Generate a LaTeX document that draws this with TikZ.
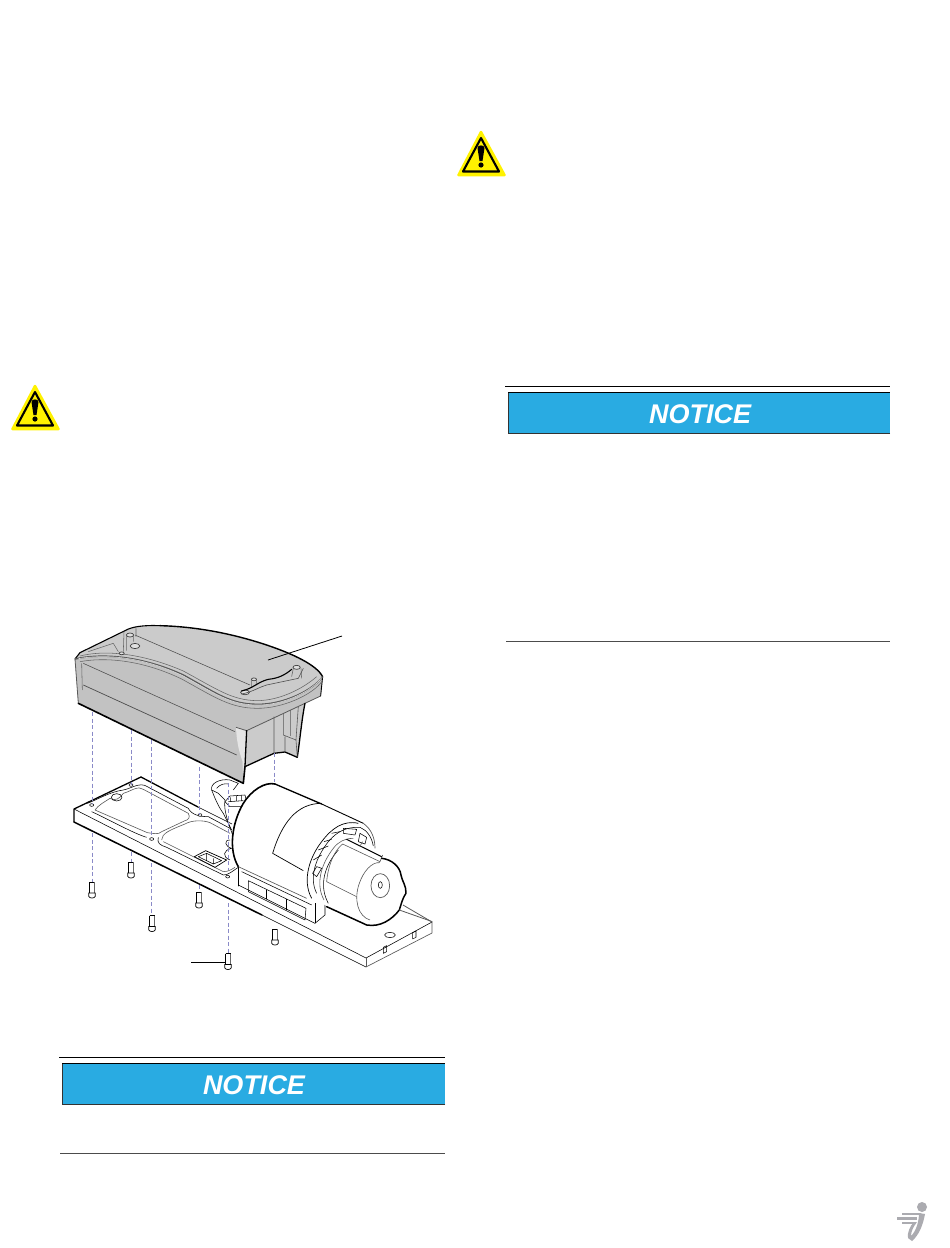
\documentclass[tikz,border=0pt]{standalone}
\usepackage{fontspec}
\setmainfont{Liberation Sans}
\newfontface\noticeface{Liberation Sans Bold Italic}
\definecolor{noticeblue}{HTML}{29ABE2}
\definecolor{dashblue}{HTML}{8A8AC8}
\definecolor{coverfill}{HTML}{CBCBCB}
\definecolor{coverdark}{HTML}{C2C2C2}
\definecolor{thin}{HTML}{9A9A9A}
\definecolor{logogray}{HTML}{ABABB0}
\definecolor{warnyellow}{HTML}{FFF200}
\tikzset{
  z1/.style={shift={(50,610)},x=0.3333pt,y=-0.3333pt},
  z2/.style={shift={(60,760)},x=0.3333pt,y=-0.3333pt},
  z3/.style={shift={(200,740)},x=0.3333pt,y=-0.3333pt},
  thickline/.style={black,line width=1.3pt,line join=round,line cap=round},
  midline/.style={black!65,line width=.8pt,line join=round},
  thinline/.style={thin,line width=.55pt,line join=round},
  dashline/.style={dashblue,line width=.9pt,dash pattern=on 4pt off 2.5pt},
  rule/.style={black,line width=.8pt},
  noticetext/.style={text=white,font=\fontsize{27}{27}\selectfont\noticeface,inner sep=0pt,anchor=center},
}
\newcommand{\warnsign}[2]{%
  \begin{scope}[shift={(#1,#2)}]
    \fill[warnyellow,line join=round,line width=2.5pt,draw=warnyellow] (481,132) -- (504.5,175) -- (458.5,175) -- cycle;
    \draw[black,line width=2.1pt,line join=round] (481,138) -- (499,171.5) -- (463,171.5) -- cycle;
    \fill[black] (477.5,148) .. controls (477.5,144.5) and (484.5,144.5) .. (484.5,148) -- (482.5,161) -- (479.5,161) -- cycle;
    \fill[black] (481,165) circle (2.6);
  \end{scope}}
\newcommand{\myscrew}[2]{%
  \begin{scope}[shift={(#1,#2)}]
    \fill[white] (-3,-8) rectangle (3,8);
    \draw[thin,line width=.7pt] (-2.5,-8) -- (-2.5,3) (-2.5,-8) -- (2.5,-8);
    \draw[black!60,line width=1pt] (2.5,-8) -- (2.5,3);
    \draw[thin,line width=.7pt] (-3.2,3) -- (3.2,3) -- (3.2,6.5) .. controls (2,8.5) and (-2,8.5) .. (-3.2,6.5) -- cycle;
  \end{scope}}
\begin{document}
\begin{tikzpicture}[x=1pt,y=-1pt]
\useasboundingbox (0,0) rectangle (950,1248);
\fill[white] (0,0) rectangle (950,1248);

% warning signs
\warnsign{0}{0}
\warnsign{-446}{254}

% notice block, right column
\draw[rule] (505,386) -- (890,386);
\node[fill=noticeblue,minimum width=382pt,minimum height=41pt,inner sep=0pt,anchor=north west] (barA) at (508,392.5) {};
\draw[black,line width=1.5pt] (508,392.5) -- (890,392.5);
\draw[black!80,line width=.6pt] (890,433.5) -- (508,433.5) -- (508,392.5);
\node[noticetext] (noticeA) at (700,414) {NOTICE};
\draw[black!70,line width=.7pt] (506,641) -- (890,641);

% notice block, left column
\draw[rule] (59,1057) -- (445,1057);
\node[fill=noticeblue,minimum width=383pt,minimum height=41pt,inner sep=0pt,anchor=north west] (barB) at (62,1063.5) {};
\draw[black,line width=1.5pt] (62,1063.5) -- (445,1063.5);
\draw[black!80,line width=.6pt] (445,1104.5) -- (62,1104.5) -- (62,1063.5);
\node[noticetext] (noticeB) at (254,1085) {NOTICE};
\draw[black!70,line width=.7pt] (60,1153) -- (445,1153);

% base plate
\fill[white] (74,809) -- (141,777) -- (432,922) -- (432,933) -- (366,967) -- (74,822) -- cycle;
\draw[thickline] (74,822) -- (74,809) -- (141,777);
\draw[thickline,line width=1.5pt] (74,822) -- (262,915);
\draw[thickline] (141,777) -- (198,807);
\draw[thinline] (198,807) -- (232,824);
\draw[thinline] (262,915) -- (366,967);
\draw[midline,line width=.65pt] (366,967) -- (432,933) -- (432,922);
\draw[thinline] (432,922) -- (366,958) -- (74,809);
\draw[midline,line width=.65pt] (366,958) -- (366,967);
\draw[midline] (403,905) -- (432,922);
\begin{scope}[z3]
  \draw[thinline] (570,585) ellipse (16 and 8);
  \draw[thinline] (550,622) -- (560,617) -- (560,635) -- (550,640) -- cycle;
  \draw[thinline] (638,578) -- (648,573) -- (648,592) -- (638,597) -- cycle;
\end{scope}

% gasket, cavities and holes
\begin{scope}[z2]
  \draw[thinline] (82,130) .. controls (110,120) and (150,95) .. (190,90) .. controls (215,85) and (240,65) .. (262,80) -- (385,145) .. controls (395,165) and (420,170) .. (445,170) -- (510,205);
  \draw[midline,line width=.6pt] (105,150) .. controls (115,135) and (135,125) .. (150,115) .. controls (165,125) and (180,115) .. (190,100) .. controls (210,95) and (235,75) .. (250,88) -- (385,160) .. controls (392,172) and (385,180) .. (375,182) -- (305,215) .. controls (295,225) and (280,220) .. (262,218) -- (105,150);
  \draw[thinline] (95,155) .. controls (150,180) and (220,220) .. (260,232);
  \draw[midline,line width=.6pt] (305,240) .. controls (305,220) and (330,210) .. (375,192) .. controls (395,180) and (430,180) .. (450,188) -- (510,220);
  \draw[thinline] (295,232) .. controls (290,250) and (300,255) .. (320,262) -- (490,345) .. controls (505,345) and (515,335) .. (535,322);
  \draw[midline,line width=.6pt] (310,245) -- (490,335) .. controls (505,335) and (515,328) .. (525,322);
  \draw[thinline] (170,112) ellipse (16 and 11);
  \draw[thin,line width=.7pt,line join=round] (403,290) -- (437,272) -- (500,300) -- (465,322) -- cycle;
  \draw[thinline] (415,290) -- (440,280) -- (485,302) -- (460,312) -- cycle (440,280) -- (440,300) (460,312) -- (460,295);
  \foreach \hx/\hy in {95/135,213/75,275/237,420/165,503/350}
    \draw[thinline,fill=white] (\hx,\hy) ellipse (6 and 4);
  % wiring and connectors
  \draw[thinline] (455,90) .. controls (450,70) and (480,55) .. (510,60) -- (535,70) -- (520,90) (455,90) -- (475,100) -- (495,120) .. controls (490,150) and (505,190) .. (520,230);
  \draw[thinline] (470,85) .. controls (480,72) and (495,70) .. (505,72) (455,90) .. controls (465,115) and (475,140) .. (490,160) -- (515,210);
  \draw[thinline,fill=white] (495,125) -- (510,108) -- (555,105) -- (560,125) -- (545,140) -- (510,140) -- cycle;
  \draw[thinline] (505,125) -- (550,122) (512,112) -- (512,125) (530,108) -- (530,123) (545,106) -- (545,122);
  \draw[thinline] (510,240) .. controls (490,240) and (495,260) .. (515,265) .. controls (490,270) and (485,290) .. (510,300);
\end{scope}

% motor
\begin{scope}[z3]
  % base block
  \fill[white] (115,370) -- (115,435) -- (345,550) -- (375,505) -- (375,450) -- cycle;
  \draw[thickline,line width=1.5pt] (115,378) -- (115,437);
  \draw[thinline] (115,435) -- (345,550) -- (375,525) -- (375,495);
  \draw[thinline] (345,550) -- (345,490);
  \draw[thinline] (145,422) -- (145,455) -- (315,540) -- (318,505) -- (145,422);
  \draw[thinline] (200,450) -- (200,478) (258,478) -- (258,510);
  \draw[thinline] (125,395) -- (335,495);
  % cylinder
  \fill[white] (115,380) .. controls (85,330) and (95,250) .. (130,190) .. controls (155,150) and (195,125) .. (225,132) -- (490,250) .. controls (520,270) and (530,310) .. (522,330) -- (618,440) .. controls (620,470) and (580,560) .. (500,555) -- (380,500) -- (330,440) -- cycle;
  \draw[thickline,line width=1.6pt] (115,380) .. controls (85,330) and (95,250) .. (130,190) .. controls (155,150) and (195,125) .. (225,132);
  \draw[thickline] (225,132) -- (365,192);
  \draw[thickline,line width=.9pt] (365,192) -- (490,250);
  \draw[midline,line width=.65pt] (115,380) -- (320,475);
  \draw[midline,line width=.7pt] (490,250) .. controls (515,268) and (525,295) .. (525,325);
  % step curve
  \draw[thinline,line width=.7pt] (365,190) .. controls (290,190) and (245,250) .. (218,340) -- (310,392);
  % disc / ring
  \draw[thinline,line width=.7pt] (335,475) .. controls (305,420) and (330,350) .. (365,305) .. controls (395,265) and (430,240) .. (475,250);
  \draw[thinline] (350,460) .. controls (325,410) and (350,350) .. (385,305) .. controls (410,275) and (440,260) .. (480,262) .. controls (500,270) and (515,290) .. (520,318);
  \draw[midline,line width=.6pt] (372,480) .. controls (345,430) and (365,370) .. (400,325) .. controls (415,305) and (435,295) .. (460,295);
  \draw[thinline] (385,490) .. controls (355,435) and (375,375) .. (415,330);
  \draw[thinline] (340,360) -- (365,345) (355,330) -- (385,318) (372,305) -- (395,298) (395,280) -- (420,275);
  \draw[thinline] (430,265) -- (470,268) -- (465,285) -- (430,280) -- cycle;
  \draw[thinline] (480,280) -- (500,292) -- (495,312) -- (475,305) -- cycle;
  \draw[thinline] (338,400) -- (350,380) -- (365,385) -- (350,410) -- cycle;
  % shaft
  \draw[thickline,line width=1pt] (440,298) -- (545,350);
  \draw[midline,line width=.6pt] (428,312) -- (540,365) (480,318) -- (488,305) (540,365) -- (548,345);
  \draw[midline,line width=.6pt] (428,312) .. controls (405,330) and (385,370) .. (380,425) -- (470,470);
  \draw[thickline,line width=1.5pt] (545,355) .. controls (575,358) and (600,380) .. (603,405) .. controls (605,420) and (620,440) .. (618,460) .. controls (605,480) and (605,490) .. (598,510) .. controls (575,540) and (540,562) .. (500,555) -- (380,500);
  \draw[midline,line width=.6pt] (510,540) .. controls (475,530) and (460,480) .. (478,430) .. controls (490,395) and (515,365) .. (540,368);
  \draw[midline,line width=.7pt] (541,437) ellipse (28 and 36);
  \draw[thinline] (541,435) ellipse (6 and 10);
  \draw[midline] (598,510) -- (697,545);
\end{scope}

% cover
\begin{scope}[z1]
  \path[fill=coverfill] (75,147) -- (90,128) -- (225,62) .. controls (245,50) and (280,45) .. (330,47) .. controls (450,50) and (560,75) .. (650,105) .. controls (730,132) and (800,165) .. (818,200) -- (812,258) -- (765,280) .. controls (755,330) and (750,390) .. (742,442) -- (705,426) -- (672,430) -- (585,470) -- (580,520) -- (85,280) -- cycle;
  % front face a little darker
  \path[fill=coverdark] (75,147) .. controls (150,130) and (270,135) .. (400,195) .. controls (500,250) and (540,282) .. (620,283) .. controls (700,285) and (790,240) .. (818,200) -- (812,258) -- (765,280) -- (590,360) -- (558,352) -- (575,430) -- (580,520) -- (85,280) -- cycle;
  % light end wall
  \path[fill=black!10] (558,352) -- (590,362) -- (585,470) -- (580,520) -- (578,455) .. controls (565,420) and (560,390) .. (558,352) -- cycle;
  % edges
  \draw[thickline,line width=1.1pt] (75,147) -- (90,128) -- (225,62) .. controls (245,50) and (280,45) .. (330,47);
  \draw[thickline,line width=1.4pt] (330,47) .. controls (450,50) and (560,75) .. (650,105) .. controls (730,132) and (800,165) .. (818,200);
  \draw[midline] (75,147) -- (85,280);
  \draw[thickline,line width=1.6pt] (85,280) -- (580,520) -- (585,470);
  \draw[thickline,line width=.9pt] (818,200) -- (812,258);
  \draw[midline] (812,258) -- (765,280) -- (590,362) -- (558,352);
  \draw[thickline] (590,362) -- (585,470);
  \draw[thickline] (585,470) -- (672,430) -- (705,426) -- (742,442);
  \draw[thickline] (765,280) .. controls (755,330) and (750,390) .. (742,442);
  % rim
  \draw[black!65,line width=1.5pt] (75,147) .. controls (150,130) and (270,135) .. (400,195) .. controls (500,250) and (540,282) .. (620,283) .. controls (700,285) and (790,240) .. (818,200);
  \draw[black!15,line width=.6pt] (85,146) .. controls (160,133) and (270,137) .. (398,197) .. controls (498,252) and (540,284) .. (620,285) .. controls (700,287) and (788,242) .. (815,203);
  \draw[black!60,line width=.55pt] (90,155) .. controls (160,142) and (270,147) .. (395,207) .. controls (495,262) and (540,294) .. (620,295) .. controls (700,296) and (790,252) .. (815,215);
  \draw[black!60,line width=.55pt] (90,138) .. controls (160,120) and (270,127) .. (400,183) .. controls (505,240) and (545,270) .. (620,272) .. controls (690,272) and (760,235) .. (800,200);
  % inner lines
  \draw[black!70,line width=.55pt] (255,75) -- (600,225);
  \draw[black!70,line width=.55pt] (100,160) -- (555,365);
  \draw[black!70,line width=.7pt] (100,225) -- (560,435);
  \draw[black!60,line width=.55pt] (95,160) -- (97,240);
  \draw[black!60,line width=.55pt] (222,65) -- (220,125) (258,55) -- (258,80);
  \draw[black!60,line width=.55pt] (115,125) -- (190,100) -- (205,125);
  % right end details
  \draw[black!65,line width=.6pt] (672,430) -- (672,320) (700,310) -- (700,375) -- (738,390) (705,380) -- (705,426) (722,300) -- (722,378) (738,390) -- (742,442) (745,290) -- (738,390);
  % bosses
  \foreach \bx/\by/\br in {240/75/10,255/108/13,740/172/10,612/208/7,585/247/12,215/130/7}{
    \draw[black!75,line width=.7pt,fill=black!12] (\bx,\by) ellipse (\br*1.1 and \br*.6);
  }
  \draw[black!60,line width=.55pt] (230,78) -- (230,122) (250,78) -- (250,95) (730,175) -- (725,200) (753,175) -- (755,205) (604,210) -- (604,232) (620,210) -- (620,225);
  % wavy ledge
  \draw[thickline,line width=1.1pt] (575,243) .. controls (610,235) and (625,215) .. (655,208) .. controls (685,205) and (705,195) .. (725,178);
  \draw[black!70,line width=.6pt] (575,252) .. controls (610,245) and (630,230) .. (650,225) -- (745,205) -- (760,175);
\end{scope}

% dashed assembly lines
\foreach \dx/\ya/\yb in {92/712/804,92/833/882,131/730/785,131/852/862,151/740/837,151/863/915,199/767/815,199/885/892,228/783/870,228/903/953,274.5/753/782}
  \draw[dashline] (\dx,\ya) -- (\dx,\yb);

% screws
\myscrew{92}{890}
\myscrew{131}{870}
\myscrew{152}{923.5}
\myscrew{199}{900}
\myscrew{228}{961.5}
\myscrew{275}{937}

% leader lines
\coordinate (leadA) at (268,660);
\coordinate (leadAend) at (342,636);
\draw[black,line width=.8pt] (leadA) -- (leadAend);
\coordinate (leadB) at (191,962);
\coordinate (leadBend) at (226,962);
\draw[black,line width=.9pt] (leadB) -- (leadBend);

% logo
\fill[logogray] (922,1207) circle (5);
\draw[logogray,line width=2.4pt] (902,1214) -- (921,1214) (897,1218.5) -- (917,1218.5) (902,1223) -- (915,1223);
\fill[logogray] (919,1213) -- (925,1214) .. controls (923,1225) and (919,1235) .. (912,1241) -- (908,1238) .. controls (907,1233) and (910,1226) .. (914,1222) -- (917,1222) .. controls (913,1227) and (911,1232) .. (911,1236) .. controls (916,1231) and (919,1222) .. (919,1213) -- cycle;
\end{tikzpicture}
\end{document}
